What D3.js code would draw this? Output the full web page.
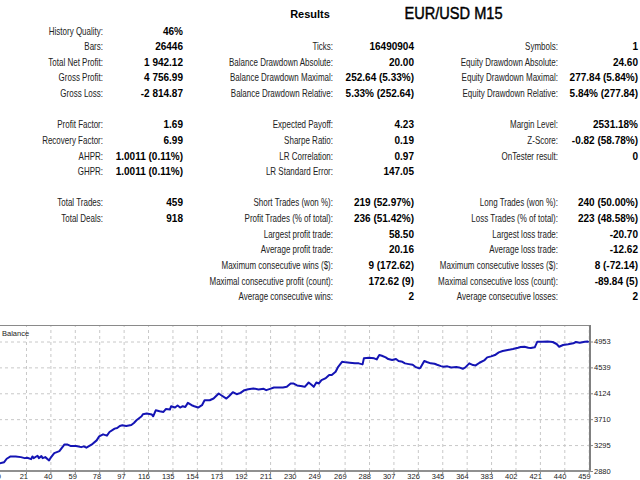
<!DOCTYPE html>
<html>
<head>
<meta charset="utf-8">
<script src="https://cdn.jsdelivr.net/npm/d3@7"></script>
<style>
  html, body { margin: 0; padding: 0; background: #fff; }
  svg { display: block; }
  .lbl { font-family: "Liberation Sans", Arial, sans-serif; font-size: 10px; fill: #222; }
  .val { font-family: "Liberation Sans", Arial, sans-serif; font-size: 10px; font-weight: bold; fill: #000; }
  .grid line { stroke: #c8c8c8; stroke-dasharray: 3,3; }
  .grid path { display: none; }
  .axis text { font-family: "Liberation Sans", Arial, sans-serif; font-size: 7.5px; fill: #222; }
  .axis line { stroke: #888; }
  .axis path { display: none; }
</style>
</head>
<body>
<svg id="chart" width="640" height="480"></svg>
<script>
// report table, one array per column (blank rows kept as "")
const col1Labels = ["History Quality:", "Bars:", "Total Net Profit:", "Gross Profit:", "Gross Loss:", "",
  "Profit Factor:", "Recovery Factor:", "AHPR:", "GHPR:", "",
  "Total Trades:", "Total Deals:", "", "", "", "", ""];
const col1Values = ["46%", "26446", "1 942.12", "4 756.99", "-2 814.87", "",
  "1.69", "6.99", "1.0011 (0.11%)", "1.0011 (0.11%)", "",
  "459", "918", "", "", "", "", ""];
const col2Labels = ["", "Ticks:", "Balance Drawdown Absolute:", "Balance Drawdown Maximal:", "Balance Drawdown Relative:", "",
  "Expected Payoff:", "Sharpe Ratio:", "LR Correlation:", "LR Standard Error:", "",
  "Short Trades (won %):", "Profit Trades (% of total):", "Largest profit trade:", "Average profit trade:",
  "Maximum consecutive wins ($):", "Maximal consecutive profit (count):", "Average consecutive wins:"];
const col2Values = ["", "16490904", "20.00", "252.64 (5.33%)", "5.33% (252.64)", "",
  "4.23", "0.19", "0.97", "147.05", "",
  "219 (52.97%)", "236 (51.42%)", "58.50", "20.16", "9 (172.62)", "172.62 (9)", "2"];
const col3Labels = ["", "Symbols:", "Equity Drawdown Absolute:", "Equity Drawdown Maximal:", "Equity Drawdown Relative:", "",
  "Margin Level:", "Z-Score:", "OnTester result:", "", "",
  "Long Trades (won %):", "Loss Trades (% of total):", "Largest loss trade:", "Average loss trade:",
  "Maximum consecutive losses ($):", "Maximal consecutive loss (count):", "Average consecutive losses:"];
const col3Values = ["", "1", "24.60", "277.84 (5.84%)", "5.84% (277.84)", "",
  "2531.18%", "-0.82 (58.78%)", "0", "", "",
  "240 (50.00%)", "223 (48.58%)", "-20.70", "-12.62", "8 (-72.14)", "-89.84 (5)", "2"];

// balance curve
const tradeNo = [0, 4, 6, 9, 13, 17, 20, 22, 25, 26, 27, 30, 31, 33, 34, 36, 39, 40, 43, 47,
  51, 53, 56, 60, 64, 66, 68, 72, 76, 78, 81, 84, 86, 90, 92, 94, 96, 99, 103, 105,
  107, 111, 112, 115, 119, 120, 122, 125, 128, 130, 133, 134, 137, 139, 141, 143, 145, 147, 150, 152,
  155, 158, 160, 164, 167, 171, 173, 177, 179, 182, 185, 188, 191, 194, 198, 202, 206, 208, 211, 214,
  217, 221, 224, 227, 229, 232, 236, 238, 241, 243, 245, 247, 249, 251, 254, 257, 259, 262, 264, 267,
  270, 273, 277, 280, 283, 284, 288, 292, 294, 296, 298, 301, 303, 306, 309, 311, 314, 316, 319, 322,
  324, 327, 328, 331, 333, 336, 339, 341, 344, 346, 349, 352, 356, 358, 361, 363, 366, 369, 371, 374,
  378, 380, 383, 386, 389, 392, 396, 400, 404, 406, 409, 412, 414, 417, 419, 423, 427, 431, 434, 436,
  439, 443, 447, 449, 452, 456, 458, 459];
const balance = [3000, 3021, 3076, 3113, 3113, 3102, 3086, 3092, 3070, 3113, 3086, 3124, 3086, 3118, 3086, 3102, 3049, 3086, 3166, 3198,
  3306, 3306, 3279, 3279, 3262, 3274, 3253, 3301, 3370, 3434, 3467, 3446, 3504, 3558, 3568, 3600, 3611, 3600, 3616, 3648,
  3692, 3756, 3788, 3799, 3783, 3756, 3852, 3836, 3825, 3873, 3863, 3917, 3896, 3928, 3896, 3917, 3905, 3970, 3933, 3917,
  3896, 3933, 4013, 4013, 4040, 4121, 4093, 4040, 4077, 4141, 4109, 4130, 4174, 4190, 4201, 4185, 4195, 4174, 4195, 4217,
  4217, 4217, 4227, 4281, 4281, 4249, 4238, 4227, 4297, 4265, 4227, 4297, 4281, 4334, 4362, 4415, 4415, 4468, 4548, 4628,
  4619, 4613, 4603, 4603, 4587, 4683, 4693, 4683, 4667, 4736, 4725, 4699, 4672, 4656, 4672, 4640, 4628, 4603, 4591, 4580,
  4548, 4522, 4532, 4640, 4624, 4603, 4596, 4580, 4559, 4548, 4555, 4538, 4543, 4538, 4516, 4538, 4603, 4575, 4570, 4613,
  4656, 4699, 4715, 4736, 4779, 4800, 4816, 4833, 4853, 4865, 4870, 4853, 4849, 4860, 4950, 4950, 4953, 4945, 4913, 4869,
  4897, 4908, 4924, 4945, 4934, 4950, 4953, 4942];

const xTicks = [0, 21, 40, 59, 78, 97, 116, 135, 154, 173, 192, 211, 230, 249, 269, 288, 307, 326, 345, 364, 383, 402, 421, 440, 459];
const yTicks = [2880, 3295, 3710, 4124, 4539, 4953];

const svg = d3.select("#chart");

// ---- report text ----
const rowY = i => 34.5 + i * 15.63;
const columns = [
  { labels: col1Labels, values: col1Values, lx: 103, vx: 183 },
  { labels: col2Labels, values: col2Values, lx: 333, vx: 414 },
  { labels: col3Labels, values: col3Values, lx: 558, vx: 638 }
];

columns.forEach(c => {
  c.labels.forEach((t, i) => {
    if (!t) return;
    svg.append("text")
      .attr("class", "lbl")
      .attr("transform", `translate(${c.lx},${rowY(i)}) scale(0.8,1)`)
      .attr("text-anchor", "end")
      .text(t);
  });
  c.values.forEach((t, i) => {
    if (!t) return;
    svg.append("text")
      .attr("class", "val")
      .attr("transform", `translate(${c.vx},${rowY(i)}) scale(1.0,1)`)
      .attr("text-anchor", "end")
      .text(t);
  });
});

svg.append("text")
  .attr("x", 310).attr("y", 17.5)
  .attr("text-anchor", "middle")
  .attr("font-family", "Liberation Sans, Arial, sans-serif")
  .attr("font-size", "11px")
  .attr("font-weight", "bold")
  .attr("fill", "#000")
  .text("Results");

svg.append("text")
  .attr("transform", "translate(453.5,19) scale(0.86,1)")
  .attr("text-anchor", "middle")
  .attr("font-family", "Liberation Sans, Arial, sans-serif")
  .attr("font-size", "17px")
  .attr("fill", "#000")
  .attr("stroke", "#000")
  .attr("stroke-width", 0.45)
  .text("EUR/USD M15");

// ---- balance chart ----
const plotL = -1, plotR = 590, plotT = 325, plotB = 471;

const x = d3.scaleLinear().domain([0, 460]).range([plotL, plotR]);
const y = d3.scaleLinear().domain([2880, 4953]).range([plotB, 341.5]);

svg.append("rect")
  .attr("x", plotL).attr("y", plotT)
  .attr("width", plotR - plotL).attr("height", plotB - plotT)
  .attr("fill", "#fff");

// vertical grid
svg.append("g")
  .attr("class", "grid")
  .attr("transform", `translate(0,${plotB})`)
  .call(d3.axisBottom(x).tickValues(xTicks.slice(1)).tickSize(-(plotB - plotT)).tickFormat(""));

// horizontal grid
svg.append("g")
  .attr("class", "grid")
  .attr("transform", `translate(${plotL},0)`)
  .call(d3.axisRight(y).tickValues(yTicks.slice(1)).tickSize(plotR - plotL).tickFormat(""));

// frame
svg.append("line")
  .attr("x1", plotL).attr("x2", plotR).attr("y1", plotT + 0.5).attr("y2", plotT + 0.5)
  .attr("stroke", "#8a8a8a").attr("stroke-width", 1);
svg.append("line")
  .attr("x1", plotR).attr("x2", plotR).attr("y1", plotT).attr("y2", plotB + 1)
  .attr("stroke", "#808080").attr("stroke-width", 2);
svg.append("line")
  .attr("x1", plotL).attr("x2", plotR + 1).attr("y1", plotB).attr("y2", plotB)
  .attr("stroke", "#909090").attr("stroke-width", 2);

svg.append("text")
  .attr("x", 2).attr("y", 336)
  .attr("font-family", "Liberation Sans, Arial, sans-serif")
  .attr("font-size", "7.5px")
  .attr("fill", "#222")
  .text("Balance");

// balance line
const pts = tradeNo.map((t, i) => ({ t: t, b: balance[i] }));
const line = d3.line()
  .x(d => x(d.t))
  .y(d => y(d.b));

svg.append("path")
  .datum(pts)
  .attr("fill", "none")
  .attr("stroke", "#1414b4")
  .attr("stroke-width", 2)
  .attr("stroke-linejoin", "round")
  .attr("d", line);

// axes
svg.append("g")
  .attr("class", "axis")
  .attr("transform", `translate(${plotR + 1},0)`)
  .call(d3.axisRight(y).tickValues(yTicks).tickSize(2).tickPadding(1).tickFormat(d3.format("d")));

const xAxis = svg.append("g")
  .attr("class", "axis")
  .attr("transform", `translate(0,${plotB + 1})`)
  .call(d3.axisBottom(x).tickValues(xTicks).tickSize(2).tickPadding(1));
xAxis.selectAll("text")
  .attr("text-anchor", "end")
  .attr("dx", "1.5")
  .attr("y", 7)
  .attr("dy", 0);
</script>
</body>
</html>
